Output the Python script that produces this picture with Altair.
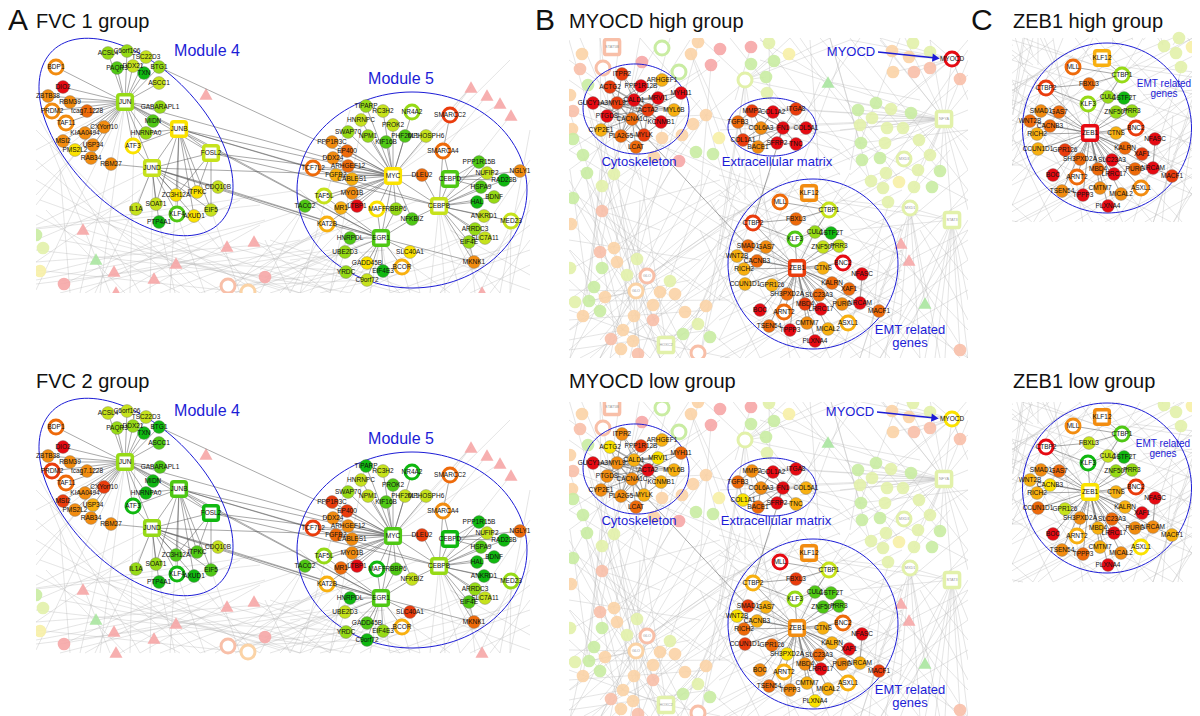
import math
import altair as alt

# ---------- palettes ----------
PAL = dict(r="#e60a12", s="#ea3c0c", o="#ee6a0a", O="#f28c10", a="#f8b010", y="#fbe200",
           l="#c6e21c", g="#96da16", G="#4fc814", D="#10b810")
PALE = dict(r="#f6a6a6", s="#f8bfa8", o="#fbd3a6", y="#f7f0a6", l="#e2f1aa", g="#c9eca2", G="#aae6a0")
BLUE = "#1c1cd6"
FONT = "Liberation Sans"

# ---------- module 4 ----------
m4_names = ["BDP1","DIO2","ZBTB38","RBM39","PRDM2","tcag7.1228","TAF11","KIAA0494","CXYorf10","MSI2","USP34","PMS2L2","RAB34","RBM27",
            "ACSL4","C6orf106","TSC22D3","PAQR3","DDX21","TXN","BTG1","ASCC1","JUN","GABARAPL1","MIDN","JUNB","HNRNPA0","ATF3","JUND","FOSL2",
            "CDQ10B","ZC3H12A","ITPKC","IL1A","SOAT1","KLF4","PTP4A1","AXUD1","EIF5"]
m4_x = [56,63,48,70,52,87,66,85,104,63,93,75,91,111,108,127,146,117,133,144,159,159,125,160,153,179,146,133,152,211,218,176,197,136,156,177,159,194,211]
m4_y = [67,87,96,102,111,111,123,133,127,141,145,150,158,164,53,51,57,68,66,73,67,83,102,107,121,129,133,146,168,153,187,195,192,209,204,214,222,216,210]
m4_top = "O r O O O o O O O O O y O O g g l G l D g l g g G y g y l l l y y l l G D y l".split()
m4_bot = "o r O O s O o O s s a O O O l l l g g D D G g G D G D D g D l G G g g D D D G".split()
m4_rings = ["BDP1","PRDM2","TAF11","ATF3","KLF4"]
m4_squares = ["JUN","JUNB","JUND","FOSL2"]

# ---------- module 5 ----------
m5_names = ["TIPARP","RC3H2","NR4A2","SMARCC2","HNRNPC","PROK2","SWAP70","NPM1","PHF20L1","MPHOSPH6","KIF16B","PPP1R3C","EP400","SMARCA4","DDX24",
            "ARHGEF12","TCF7L2","PPP1R15B","NGLY1","NUFIP2","FGFR2","CABLES1","MYC","DLEU2","CEBPD","RAD23B","HSPA9","MYO1B","TAF5L","BDNF","HAL",
            "TACC2","MR1","LTBP1","MAFF","RBBP6","CEBPB","ANKRD1","MED23","NFKBIZ","KAT2B","ARRDC3","HNRPDL","EGR1","SLC7A11","EIF4E","UBE2D3",
            "SLC40A1","MKNK1","GADD45B","BCOR","EIF4E3","YRDC","C9orf72"]
m5_x = [366,383,412,450,361,393,348,368,405,426,386,332,347,443,333,348,313,479,520,487,336,352,393,422,450,504,481,352,324,494,477,305,341,357,377,396,439,484,511,412,327,475,350,381,485,469,345,410,474,367,402,383,346,367]
m5_y = [106,111,112,115,120,125,132,136,136,136,142,142,151,151,158,166,168,162,171,173,175,179,176,175,179,180,187,193,196,197,202,206,208,206,209,209,206,216,221,219,224,229,238,238,238,242,252,252,262,263,267,271,272,280]
m5_top = "g l g s l l g g G l G O o o O o o G O l a a y o G D G O l g D G a r y g l l l G a g G G l g g y O y a D g l".split()
m5_bot = "D l D o l G g l l l G s s O O O s D o l o O G s D D G O g D D G o r D G g D g l a g D G l G l s o G a g g D".split()
m5_rings = ["NR4A2","SMARCC2","SMARCA4","TCF7L2","TAF5L","MAFF","MED23","KAT2B","BCOR"]
m5_squares = ["MYC","CEBPD","CEBPB","EGR1"]

# ---------- cytoskeleton / extracellular matrix ----------
cy_names = ["ITPR2","ARHGEF1","ACTG2","PPP1R12B","MYH11","MRVI1","GUCY1A3","MYL9","CALD1","ACTA2","MYL6B","PTGDS","CACNA1C","KCNMB1","CYP2E1","PLA2G5","MYLK","LCAT"]
cy_x = [622,662,610,641,681,658,593,617,634,648,674,607,632,661,601,621,644,636]
cy_y = [74,80,87,86,93,98,103,103,100,110,110,116,119,122,130,136,135,147]
cy_top = "s a s r r r r s r s a r o r a o s o".split()
cy_bot = "O a y s o y r O a r a O O a O O a o".split()
ec_names = ["MMP2","COL1A2","ITGA8","TGFB3","COL6A3","FN1","COL5A1","COL1A1","SFRP2","TNC","BACE1"]
ec_x = [752,773,796,738,761,783,806,743,777,796,758]
ec_y = [111,112,109,122,128,128,128,140,143,144,147]
ec_top = "s r s o O r r s r r O".split()
ec_bot = "O r r o O r a y r a o".split()
my_names = ["MYOCD"]; my_x = [952]; my_y = [59]; my_top = ["r"]; my_bot = ["y"]

# ---------- EMT module ----------
em_names = ["KLF12","MLL","CTBP1","FBXL3","CTBP2","CUL1","CSTF2T","KLF3","SMAD1","GAS7","ZNF507","PRR3","WNT2B","CACNB3","BNC2","ZEB1","CTNS","RICH2","NFASC",
            "CCUN1D1","GPR126","KALRN","XAF1","SH3PXD2A","SLC23A3","PURG","NRCAM","MBD4","LRRC17","MACF1","BOC","ARNT2","ASXL1","CMTM7","MICAL2","TSEN54","TPPP3","PLXNA4"]
em_x = [809,780,829,796,753,815,831,795,748,766,823,839,737,757,843,797,823,744,862,745,772,832,849,787,819,842,860,805,821,879,760,784,848,807,828,769,790,815]
em_y = [193,202,210,219,223,232,233,239,246,247,247,246,256,261,263,268,268,269,274,284,285,283,289,294,295,304,303,304,309,311,310,312,323,323,329,326,330,341]
em_b_top = "O o l o s g D G o O l l a o r s a a r a a o o o o O r s r o r o a O a o r r".split()
em_b_bot = "O r l s a G G g s a G G y a o O a o r s o a r y o O a O r s O a a a a o O y".split()
em_c_top = "a o g o s g D g O o g g o o s r a a r a s o s o r o r o r s r o O O O O r r".split()
em_c_bot = "O O G l r l D D O o g g a y s y a a r o l a r O o O O a r a r a y a O O o r".split()
em_rings = ["MLL","CTBP1","CTBP2","KLF3","BNC2","ARNT2","ASXL1"]
em_squares = ["KLF12","ZEB1"]

# ---------- dark edges ----------
edges_a = {
 "JUN": ["BDP1","DIO2","ZBTB38","RBM39","PRDM2","tcag7.1228","TAF11","KIAA0494","CXYorf10","MSI2","USP34","PMS2L2","RAB34","ACSL4","C6orf106","TSC22D3",
         "PAQR3","DDX21","TXN","BTG1","ASCC1","GABARAPL1","MIDN","HNRNPA0","ATF3","JUNB","JUND","FOSL2","MYC","EGR1"],
 "JUNB": ["ATF3","JUND","ZC3H12A","ITPKC","AXUD1","KLF4","EIF5","SOAT1","FOSL2","HNRNPA0","MYC","EGR1","CEBPB","TCF7L2"],
 "JUND": ["RBM27","ATF3","FOSL2","IL1A","SOAT1","KLF4","ZC3H12A","PTP4A1","AXUD1","EIF5","ITPKC","CDQ10B","EGR1","MYC","KAT2B"],
 "FOSL2": ["ZC3H12A","ITPKC","EIF5","MYC","CEBPB"],
 "BTG1": ["MYC"], "CDQ10B": ["EGR1"], "TIPARP": ["MYC"],
 "MYC": ["RC3H2","NR4A2","HNRNPC","PROK2","SWAP70","NPM1","PHF20L1","KIF16B","PPP1R3C","EP400","DDX24","ARHGEF12","TCF7L2","FGFR2","CABLES1","DLEU2","MYO1B",
         "TAF5L","TACC2","MR1","LTBP1","MAFF","RBBP6","CEBPB","NFKBIZ","EGR1","KAT2B","MPHOSPH6"],
 "CEBPB": ["CEBPD","DLEU2","PPP1R15B","NUFIP2","HSPA9","BDNF","HAL","ANKRD1","MED23","ARRDC3","SLC7A11","EIF4E","RAD23B","NFKBIZ","MKNK1","SMARCA4"],
 "CEBPD": ["PPP1R15B","NUFIP2","HSPA9","SMARCA4","NGLY1","RAD23B"],
 "EGR1": ["MAFF","HNRPDL","UBE2D3","SLC40A1","GADD45B","BCOR","EIF4E3","YRDC","C9orf72","MKNK1","NFKBIZ","KAT2B","RBBP6","TAF5L"],
 "SMARCC2": ["SMARCA4"], "EIF4E": ["MKNK1"],
}
edges_b = {
 "MYL9": ["ITPR2","ACTG2","PPP1R12B","MRVI1","GUCY1A3","CALD1","ACTA2","MYL6B","PTGDS","CACNA1C","KCNMB1","CYP2E1","PLA2G5","MYLK"],
 "CALD1": ["ITPR2","ARHGEF1","ACTG2","PPP1R12B","MYH11","MRVI1","GUCY1A3","ACTA2","MYL6B","PTGDS","CACNA1C","KCNMB1","PLA2G5","MYLK"],
 "ACTA2": ["ITPR2","MYH11","MRVI1","GUCY1A3","MYL6B","PTGDS","CACNA1C","KCNMB1","PLA2G5","MYLK","ACTG2"],
 "CACNA1C": ["PTGDS","CYP2E1","PLA2G5","MYLK","LCAT","GUCY1A3"],
 "PLA2G5": ["MYLK","LCAT","CYP2E1"], "MYLK": ["LCAT","KCNMB1","SMAD1"],
 "COL6A3": ["MMP2","COL1A2","TGFB3","FN1","COL1A1","SFRP2","BACE1"],
 "FN1": ["COL1A2","ITGA8","COL5A1","SFRP2","TNC","BACE1","MMP2","COL1A1","CTBP2"],
 "SFRP2": ["TNC","BACE1"], "COL1A2": ["MMP2","ITGA8"], "TGFB3": ["MMP2","COL1A1"],
}
edges_em = {
 "ZEB1": [n for n in em_names if n not in ("ZEB1","KLF12","MLL","CTBP1","FBXL3","NFASC","MACF1","CSTF2T")],
 "CTBP1": ["KLF12","MLL","FBXL3","CUL1"], "CTBP2": ["FBXL3","KLF3"],
 "NRCAM": ["NFASC","MACF1"], "CUL1": ["CSTF2T","KLF3"],
}

# ---------- faded background, position in the picture of panel A top ----------
fa_x = [206,83,227,254,114,176,154,116,96,471,487,500,511,482,43,40,64,265,36,228,248]
fa_y = [94,229,246,241,271,263,278,292,259,87,95,103,115,292,248,271,284,277,235,286,292]
fa_col = "r r r r r r r r G r r r r r l y r r g s o".split()
fa_kind = ["t"]*14 + ["c"]*5 + ["i"]*2
bg_a = [(36,150,125,102),(36,170,125,102),(36,195,125,102),(36,205,90,135),(36,225,153,168),(36,240,130,200),(36,262,140,190),(36,180,220,290),
 (36,160,190,293),(50,145,110,293),(60,170,70,293),(36,290,125,102),(80,293,125,102),(100,293,125,102),(95,293,153,168),(130,293,135,100),
 (150,293,153,168),(170,293,176,195),(175,293,159,222),(205,293,177,214),(240,293,211,210),(255,293,194,216),(36,229,260,205),(36,228,300,190),
 (36,262,260,245),(36,275,265,220),(60,284,300,240),(64,284,240,200),(83,229,280,290),(114,271,300,210),(154,278,330,250),(176,263,340,270),
 (227,246,400,293),(254,241,330,293),(254,241,345,272),(228,286,346,272),(228,286,367,280),(248,292,345,252),(265,277,381,238),(265,240,290,293),
 (300,293,350,238),(310,293,350,238),(330,293,345,252),(270,293,367,263),(280,293,350,220),(290,293,327,224),(305,206,230,293),(305,206,260,293),
 (327,224,260,270),(340,293,381,238),(350,293,381,238),(370,293,381,238),(390,293,381,238),(410,293,402,267),(420,293,410,252),(430,293,439,206),
 (445,293,439,206),(460,293,439,206),(475,293,469,242),(500,293,474,262),(482,292,439,206),(510,293,511,221),(471,87,450,115),(471,87,426,136),
 (487,95,443,151),(500,103,393,176),(511,115,439,206),(471,87,393,176),(510,60,393,176),(530,130,500,293),(530,180,480,293),(530,210,460,293),
 (530,250,400,293),(36,280,200,250),(36,270,250,293),(60,293,230,250),(200,293,300,260),(100,240,300,293),(36,215,180,293),(260,293,170,240),
 (530,290,420,250),(530,275,450,230),(530,240,490,293),(300,270,400,220),(280,250,420,200),(350,110,300,293),(365,106,330,293),(385,250,290,260),
 (36,130,200,293),(40,120,140,293),(46,210,125,293),(36,250,300,280),(36,284,310,250),(85,293,180,240),(120,293,220,236),(140,293,260,225),
 (160,293,330,230),(215,293,320,232),(235,293,360,240),(40,200,300,293),(60,240,350,293),(110,220,330,290),(270,240,420,293),(300,293,470,235),
 (320,293,500,250),(360,293,480,230),(390,293,520,245),(440,293,530,225),(450,293,320,200),(400,293,300,190),(530,160,440,293),(530,200,510,293),(530,265,470,293)]

# ---------- faded background, position in the picture of panel B top ----------
fb_x = [662,603,679,698,751,720,769,789,691,751,774,711,642,582,580,745,766,767,588,570,573,572,573,583,587,614,602,573,706,693,662,682,654,679,719,696,713,
        858,872,876,891,911,860,887,903,861,885,919,862,880,930,871,886,899,914,918,940,932,883,888,913,930,892,909,893,914,930,960,960,
        602,571,614,600,617,602,637,627,670,660,675,594,605,589,575,600,583,653,634,653,685,706,698,683,710,623,611,633,621,638,570]
fb_y = [48,68,72,42,47,49,43,54,54,64,61,65,62,54,69,80,77,93,85,95,111,129,139,155,173,174,186,198,115,124,138,135,157,161,138,152,154,
        110,118,103,109,113,125,128,128,143,143,140,160,158,155,181,173,182,187,170,171,187,188,202,43,52,51,57,72,72,68,79,350,
        211,224,248,252,262,268,259,275,281,292,294,287,297,301,302,311,316,305,316,320,312,306,324,334,337,330,339,341,349,354,268]
fb_col = "g s g o r r l y o g g r r o s l g l g o s o g g g l l g o o o o o r y g g g l g l g l l l g l l g g l l l y l l g g l l l l o o o s s s s s o o s o g l l l o o g o g l g o o o s o o l g g o s o o s l l l g g y".split()
b_rings = {(662,48,"g"),(603,68,"s"),(679,72,"g"),(745,80,"l"),(904,159,"l"),(910,208,"l"),(647,276,"s"),(636,291,"o"),(698,353,"s")}
b_squares = [(612,47,"s","STAT5B"),(944,119,"l","NFYA"),(952,220,"l","STAT3"),(666,345,"l","HOXC2")]
b_triangles = [(828,82,"G"),(901,243,"r"),(909,260,"r"),(925,303,"G")]
b_small_text = [(910,208,"MXD1"),(904,159,"MXD3"),(647,276,"GLO"),(636,291,"GLO")]

fan_b = [
 ((944,119),[(968,60),(968,90),(968,140),(968,170),(930,40),(905,38),(880,40),(860,110),(840,130),(872,118),(887,128),(903,128),(919,140),(880,158),(904,159),(930,155),(918,170),(940,171),(914,187),(845,100),(800,135),(760,60),(720,130),(968,210),(952,220),(780,108),(800,110),(790,125)]),
 ((952,59),[(944,119),(892,51),(909,57),(914,72),(893,72),(930,68),(960,79),(930,40),(968,40),(968,100),(850,40),(870,130),(900,100),(880,38)]),
 ((952,220),[(968,358),(960,350),(945,358),(935,358),(925,358),(968,300),(968,260),(910,208),(850,230),(820,200),(900,358),(880,358)]),
 ((910,208),[(940,358),(920,358),(885,358),(860,358),(840,200),(925,303),(968,280),(900,320)]),
 ((666,345),[(600,200),(640,170),(570,250),(569,310),(623,330),(711,300),(760,240),(698,324),(730,358)]),
 ((636,291),[(569,180),(569,220),(590,120),(640,200),(700,180),(750,205),(710,250),(600,358),(640,358),(660,358),(680,358),(569,350),(569,290)]),
 ((647,276),[(720,230),(770,190),(800,170),(600,180),(580,170),(590,100),(570,330),(630,358),(690,358),(740,358)]),
 ((745,80),[(700,38),(790,38),(830,38),(766,77),(850,40),(745,200),(720,250),(700,358),(790,358),(850,160),(940,120)]),
 ((623,330),[(569,250),(569,280),(590,190),(600,358),(650,358),(660,280),(569,340)]),
 ((589,301),[(570,170),(600,170),(640,290),(690,280),(730,300)]),
 ((653,320),[(720,280),(760,240),(700,358),(580,358),(620,200)]),
 ((602,211),[(569,110),(600,38),(640,60),(700,100),(570,358),(630,300),(660,230),(720,180)]),
 ((706,115),[(640,38),(660,170),(620,250),(730,200),(770,60),(840,150),(600,120)]),
 ((830,82),[(800,38),(860,38),(790,130),(880,140),(760,40),(920,100)]),
 ((860,143),[(830,38),(968,130),(780,120),(810,170),(968,200),(900,38)]),
]
bg_b = [(569,40,660,358),(600,38,640,350),(620,38,583,316),(640,38,600,252),(670,38,614,248),(700,38,637,259),(830,358,968,260),(850,358,968,290),(880,358,968,220),
 (900,250,968,358),(920,230,968,320),(780,358,968,240),(720,358,968,230),(700,358,968,200),(745,358,968,170),(840,358,890,200),(869,358,880,250),
 (720,190,860,358),(730,180,890,358),(710,200,800,358),(700,230,760,358),(750,170,830,358),(780,170,920,358),(800,170,960,358),(820,175,968,330),(730,205,968,358),
 (719,260,900,173),(719,280,902,190),(719,300,902,210),(719,320,902,230),(719,340,902,250),(719,220,840,173),(719,240,880,173),(725,358,902,270),(760,358,902,290),(810,358,902,310),
 (569,60,720,170),(569,80,740,200),(569,150,700,70),(569,170,720,60),(580,38,640,180),(569,200,660,40),(569,230,690,40),(600,190,700,120),(690,50,760,200),(711,65,700,200),
 (679,72,650,170),(691,54,740,190),(751,47,735,100),(769,43,770,100),(840,60,800,170),(810,40,820,180),(830,38,870,180),(860,110,850,170),(820,82,800,130),
 (719,175,902,230),(719,195,902,255),(719,215,902,280),(719,235,902,305),(719,255,902,330),(719,275,880,358),(719,295,820,358),(740,173,719,250),(770,173,719,300),(800,173,719,340),(850,173,740,358),
 (569,130,760,250),(569,150,780,280),(569,110,800,200),(569,190,720,300),(569,270,720,190),(569,300,740,180),(569,330,760,175),(590,358,780,190),(610,358,800,180),
 (660,358,830,180),(675,358,850,190),(610,200,640,358),(585,170,620,358),(575,200,660,358),(650,170,610,358),(670,170,570,358),(690,170,600,358),(710,170,640,358),
 (735,210,700,358),(745,210,690,330),(719,240,650,358),(719,260,680,358),(719,200,600,340),(700,260,569,240),(700,290,569,200),(710,310,569,320),(710,330,569,350),
 (902,225,860,358),(902,250,820,358),(950,150,860,250),(968,190,880,290),(968,230,900,340),(968,130,840,210),(968,110,820,170),(968,75,850,175),(968,50,880,180),
 (880,38,968,150),(850,38,968,190),(820,38,940,170),(790,38,900,180),(760,38,870,180),(730,38,840,175)]

# ---------- panels: offset of each copy and its window ----------
a_panels = [("top",0,0,(36,40,531,293)),("bot",0,360,(36,400,531,653))]
b_panels = [("btop",0,0,(569,38,968,358)),("bbot",0,360,(569,402,968,716))]
c_panels = [("ctop",293,-135,(1012,38,1192,222)),("cbot",293,224,(1012,402,1192,585))]
mask_x = [8,8,531,968,36,36,569,569,569,1012,1012]
mask_y = [8,8,8,8,8,293,8,358,358,222,585]
mask_x2= [36,36,569,1012,531,531,968,968,968,1192,1192]
mask_y2= [716,716,716,716,40,400,38,402,402,402,716]

ell_cx = [136,412,136,412,636,772,813,636,772,813,1107,1107]
ell_cy = [137,190,497,550,109,127,264,469,487,624,128,488]
ell_rx = [120,115,120,115,53,44,85,53,44,85,84.5,84.5]
ell_ry = [69,98,69,98,45,29,85,45,29,85,85,85]
ell_an = [46,0,46,0,4,0,0,4,0,0,0,0]

titles = [("FVC 1 group",36,28),("FVC 2 group",36,388),("MYOCD high group",569,28),("MYOCD low group",569,388),("ZEB1 high group",1013,28),("ZEB1 low group",1013,388)]
letters = [("A",8,30),("B",535,30),("C",971,30)]
blue_texts = [("Module 4",207,51,16),("Module 5",401,79,16),("Module 4",207,411,16),("Module 5",401,439,16),
 ("Cytoskeleton",639,162,13),("Extracellular matrix",777,162,13),("MYOCD",851,52,13),("EMT related",910,330,13),("genes",910,343,13),
 ("Cytoskeleton",639,521,13),("Extracellular matrix",776,521,13),("MYOCD",850,412,13),("EMT related",910,690,13),("genes",910,703,13),
 ("EMT related",1164,84,10),("genes",1164,94,10),("EMT related",1163,444,10),("genes",1163,454,10)]
arrow_x1 = [878,877]; arrow_y1 = [52,412]; arrow_x2 = [936,935]; arrow_y2 = [58,418]

# ---------- helpers ----------
def clip(seg, win):
    x1,y1,x2,y2 = seg; xa,ya,xb,yb = win
    t0,t1 = 0.0,1.0; dx,dy = x2-x1,y2-y1
    for p,q in ((-dx,x1-xa),(dx,xb-x1),(-dy,y1-ya),(dy,yb-y1)):
        if p==0:
            if q<0: return None
        else:
            r=q/p
            if p<0: t0=max(t0,r)
            else: t1=min(t1,r)
    if t0>=t1: return None
    return (x1+t0*dx,y1+t0*dy,x1+t1*dx,y1+t1*dy)

def inside(x,y,w): return w[0]<=x<=w[2] and w[1]<=y<=w[3]

bg_lines, dark, dots, rings, squares, labels, fdots, frings, fsq, ftri, ftext = [],[],[],[],[],[],[],[],[],[],[]

def add_module(names,xs,ys,cols,ringset,squareset,dx,dy):
    for n,x,y,c in zip(names,xs,ys,cols):
        row = dict(x=x+dx,y=y+dy,c=PAL[c])
        (rings if n in ringset else squares if n in squareset else dots).append(row)
        labels.append(dict(x=x+dx,y=y+dy,t=n))

def add_edges(table,pos,dx,dy):
    for hub,ls in table.items():
        if hub not in pos: continue
        for t in ls:
            if t in pos:
                a,b = pos[hub],pos[t]
                dark.append(dict(x=a[0]+dx,y=a[1]+dy,x2=b[0]+dx,y2=b[1]+dy))

pos_a = {n:(x,y) for n,x,y in zip(m4_names+m5_names,m4_x+m5_x,m4_y+m5_y)}
for key,dx,dy,win in a_panels:
    for s in bg_a:
        c = clip((s[0]+dx,s[1]+dy,s[2]+dx,s[3]+dy),win)
        if c: bg_lines.append(dict(x=c[0],y=c[1],x2=c[2],y2=c[3]))
    for x,y,c,k in zip(fa_x,fa_y,fa_col,fa_kind):
        r = dict(x=x+dx,y=y+dy,c=PALE[c])
        {"t":ftri,"c":fdots,"i":frings}[k].append(r)
    add_edges(edges_a,pos_a,dx,dy)
    top = key=="top"
    add_module(m4_names,m4_x,m4_y,m4_top if top else m4_bot,m4_rings,m4_squares,dx,dy)
    add_module(m5_names,m5_x,m5_y,m5_top if top else m5_bot,m5_rings,m5_squares,dx,dy)

segs_b = list(bg_b)
for hub,tg in fan_b:
    segs_b += [(hub[0],hub[1],t[0],t[1]) for t in tg]
ring_xy = {(r[0],r[1]):r[2] for r in b_rings}
for key,dx,dy,win in b_panels+c_panels:
    for s in segs_b:
        c = clip((s[0]+dx,s[1]+dy,s[2]+dx,s[3]+dy),win)
        if c: bg_lines.append(dict(x=c[0],y=c[1],x2=c[2],y2=c[3]))
    for x,y,c in zip(fb_x,fb_y,fb_col):
        if inside(x+dx,y+dy,win):
            fdots.append(dict(x=x+dx,y=y+dy,c=PALE[c]))
    for (x,y),c in ring_xy.items():
        if inside(x+dx,y+dy,win):
            frings.append(dict(x=x+dx,y=y+dy,c=PALE[c]))
    for x,y,c,t in b_squares:
        if inside(x+dx,y+dy,win):
            fsq.append(dict(x=x+dx,y=y+dy,c=PALE[c])); ftext.append(dict(x=x+dx,y=y+dy,t=t))
    for x,y,c in b_triangles:
        if inside(x+dx,y+dy,win):
            ftri.append(dict(x=x+dx,y=y+dy,c=PALE[c]))
    for x,y,t in b_small_text:
        if inside(x+dx,y+dy,win):
            ftext.append(dict(x=x+dx,y=y+dy,t=t))

pos_b = {n:(x,y) for n,x,y in zip(cy_names+ec_names+em_names,cy_x+ec_x+em_x,cy_y+ec_y+em_y)}
pos_em = {n:(x,y) for n,x,y in zip(em_names,em_x,em_y)}
for key,dx,dy,_ in b_panels:
    add_edges(edges_b,pos_b,dx,dy)
    add_edges(edges_em,pos_em,dx,dy)
    t = key=="btop"
    add_module(cy_names,cy_x,cy_y,cy_top if t else cy_bot,[],[],dx,dy)
    add_module(ec_names,ec_x,ec_y,ec_top if t else ec_bot,[],[],dx,dy)
    add_module(em_names,em_x,em_y,em_b_top if t else em_b_bot,em_rings,em_squares,dx,dy)
    add_module(my_names,my_x,my_y,my_top if t else my_bot,my_names,[],dx,dy)
for key,dx,dy,_ in c_panels:
    add_edges(edges_em,pos_em,dx,dy)
    add_module(em_names,em_x,em_y,em_c_top if key=="ctop" else em_c_bot,em_rings,em_squares,dx,dy)

ell_rows = []
for i,(cx,cy,rx,ry,an) in enumerate(zip(ell_cx,ell_cy,ell_rx,ell_ry,ell_an)):
    a = math.radians(an)
    for k in range(121):
        t = 2*math.pi*k/120
        ex,ey = rx*math.cos(t),ry*math.sin(t)
        ell_rows.append(dict(id=i,k=k,x=cx+ex*math.cos(a)-ey*math.sin(a),y=cy+ex*math.sin(a)+ey*math.cos(a)))

# ---------- encodings ----------
X = alt.X("x:Q",scale=alt.Scale(domain=[8,1192],nice=False,zero=False),axis=None)
Y = alt.Y("y:Q",scale=alt.Scale(domain=[716,8],nice=False,zero=False),axis=None)
X2 = alt.X2("x2:Q"); Y2 = alt.Y2("y2:Q")
C = alt.Color("c:N",scale=None); S = alt.Stroke("c:N",scale=None)
ROUND = "M-0.72,-1H0.72Q1,-1,1,-0.72V0.72Q1,1,0.72,1H-0.72Q-1,1,-1,0.72V-0.72Q-1,-1,-0.72,-1Z"

def df(rows): return alt.Data(values=rows)

layers = [
 alt.Chart(df(bg_lines)).mark_rule(color="#b8b8b8",strokeWidth=0.5,opacity=0.75).encode(x=X,y=Y,x2=X2,y2=Y2),
 alt.Chart(df(fdots)).mark_circle(size=160,opacity=0.9).encode(x=X,y=Y,color=C),
 alt.Chart(df(frings)).mark_point(shape="circle",filled=True,fill="white",size=195,strokeWidth=3,opacity=1).encode(x=X,y=Y,stroke=S),
 alt.Chart(df(fsq)).mark_point(shape=ROUND,filled=True,fill="white",size=230,strokeWidth=3.5,opacity=1).encode(x=X,y=Y,stroke=S),
 alt.Chart(df(ftri)).mark_point(shape="triangle-up",filled=True,size=170,opacity=0.9).encode(x=X,y=Y,color=C),
 alt.Chart(df(ftext)).mark_text(font=FONT,fontSize=3.8,color="#999999",baseline="middle").encode(x=X,y=Y,text="t:N"),
 alt.Chart(df([dict(x=a,y=b,x2=c,y2=d) for a,b,c,d in zip(mask_x,mask_y,mask_x2,mask_y2)])).mark_rect(color="white").encode(x=X,y=Y,x2=X2,y2=Y2),
 alt.Chart(df(dark)).mark_rule(color="#555555",strokeWidth=0.6,opacity=0.85).encode(x=X,y=Y,x2=X2,y2=Y2),
 alt.Chart(df(ell_rows)).mark_line(color=BLUE,strokeWidth=1).encode(x=X,y=Y,detail="id:N",order="k:Q"),
 alt.Chart(df(dots)).mark_circle(size=165,opacity=1,stroke="#777777",strokeWidth=0.4).encode(x=X,y=Y,color=C),
 alt.Chart(df(rings)).mark_point(shape="circle",filled=True,fill="white",size=195,strokeWidth=3,opacity=1).encode(x=X,y=Y,stroke=S),
 alt.Chart(df(squares)).mark_point(shape=ROUND,filled=True,fill="white",size=215,strokeWidth=3.5,opacity=1).encode(x=X,y=Y,stroke=S),
 alt.Chart(df(labels)).mark_text(font=FONT,fontSize=6.5,color="#111111",baseline="middle").encode(x=X,y=Y,text="t:N"),
 alt.Chart(df([dict(x=a,y=b,x2=c,y2=d) for a,b,c,d in zip(arrow_x1,arrow_y1,arrow_x2,arrow_y2)])).mark_rule(color=BLUE,strokeWidth=1.6).encode(x=X,y=Y,x2=X2,y2=Y2),
 alt.Chart(df([dict(x=c,y=d) for c,d in zip(arrow_x2,arrow_y2)])).mark_point(shape="triangle-right",filled=True,color=BLUE,size=70,opacity=1,angle=6).encode(x=X,y=Y),
 alt.Chart(df([dict(t=t,x=x,y=y,s=s) for t,x,y,s in blue_texts])).mark_text(font=FONT,color=BLUE,baseline="middle").encode(x=X,y=Y,text="t:N",size=alt.Size("s:Q",scale=None)),
 alt.Chart(df([dict(t=t,x=x,y=y) for t,x,y in titles])).mark_text(font=FONT,fontSize=20,color="#111111",align="left",baseline="alphabetic").encode(x=X,y=Y,text="t:N"),
 alt.Chart(df([dict(t=t,x=x,y=y) for t,x,y in letters])).mark_text(font=FONT,fontSize=30,color="#111111",align="left",baseline="alphabetic").encode(x=X,y=Y,text="t:N"),
]

chart = alt.layer(*layers).properties(width=1184,height=708,padding=0,autosize=alt.AutoSizeParams(type="none"),background="white").configure_view(stroke=None)
chart.save("out.html",embed_options={"renderer":"svg","actions":False})
